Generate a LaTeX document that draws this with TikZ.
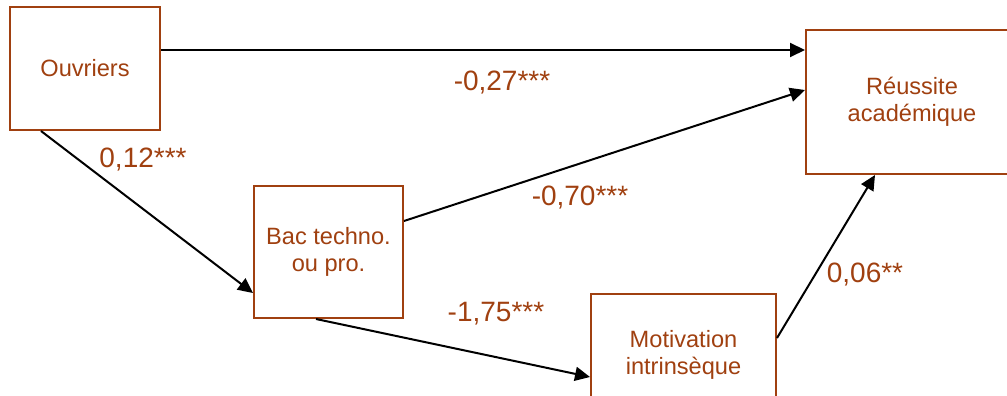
\documentclass[tikz,border=0pt]{standalone}
\usepackage{fontspec}
\setmainfont{Liberation Sans}
\usetikzlibrary{arrows.meta,calc}
\definecolor{rust}{RGB}{160,64,16}
\tikzset{
  box/.style={draw=rust, line width=2pt, fill=white, text=rust, inner sep=0pt, align=center,
    font=\fontsize{23.6}{27}\selectfont},
  lab/.style={text=rust, inner sep=0pt, font=\fontsize{28}{32}\selectfont},
  arr/.style={line width=2pt, -{Triangle[length=15pt, width=14pt]}}
}
\begin{document}
\begin{tikzpicture}[x=1pt, y=-1pt]
\useasboundingbox (0,0) rectangle (1007,396);
\node[box, minimum width=150pt, minimum height=123pt] (ouv) at (85,68.5) {Ouvriers};
\node[box, minimum width=212pt, minimum height=144pt] (reu) at (912,102) {Réussite\\académique};
\node[box, minimum width=149pt, minimum height=132pt] (bac) at (328.5,252) {Bac techno.\\ou pro.};
\node[box, minimum width=185pt, minimum height=122pt] (mot) at (683.5,355) {Motivation\\intrinsèque};
\draw[arr] ($(ouv.north east)+(0,44)$) -- ($(reu.north west)+(0,21)$);
\draw[arr] ($(ouv.south west)+(32,0)$) -- ($(bac.south west)+(0,-26)$);
\draw[arr] ($(bac.north east)+(0,36)$) -- ($(reu.north west)+(0,61)$);
\draw[arr] ($(bac.south west)+(63,0)$) -- ($(mot.north west)+(0,84)$);
\draw[arr] ($(mot.north east)+(0,45)$) -- ($(reu.south west)+(70,0)$);
\node[lab] (l1) at (143,160) {0,12***};
\node[lab] (l2) at (502,83) {-0,27***};
\node[lab] (l3) at (580,198) {-0,70***};
\node[lab] (l4) at (496,314) {-1,75***};
\node[lab] (l5) at (865,275) {0,06**};
\end{tikzpicture}
\end{document}
